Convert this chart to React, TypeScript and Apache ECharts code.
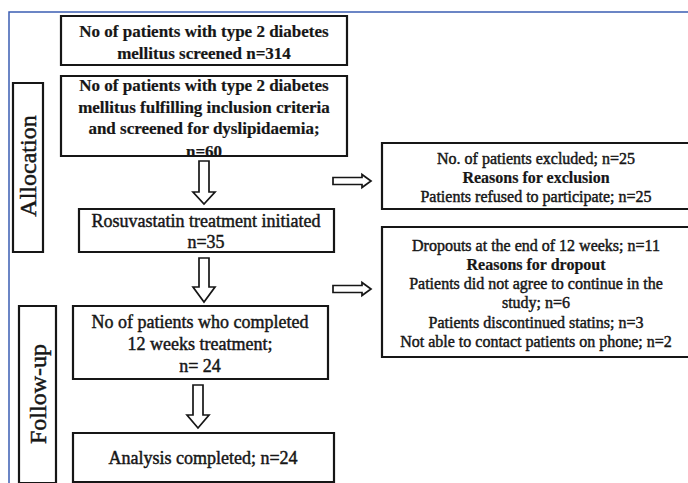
import React, { useEffect, useRef } from "react";
import * as echarts from "echarts";

// ---- Data (counts) ----
const screenedCount = 314;
const eligibleCount = 60;
const initiatedCount = 35;
const completedCount = 24;
const analysedCount = 24;
const excludedCount = 25;
const exclusionReasons = ["Patients refused to participate"];
const exclusionCounts = [25];
const dropoutCount = 11;
const dropoutReasons = [
  "Patients did not agree to continue in the study",
  "Patients discontinued statins",
  "Not able to contact patients on phone",
];
const dropoutCounts = [6, 3, 2];
const phaseLabels = ["Allocation", "Follow-up"];

const INK = "#161616";
const FRAME = "#3b5db3";
const SERIF = "'Liberation Serif', serif";

export default function App() {
  const ref = useRef<HTMLDivElement>(null);
  useEffect(() => {
    document.body.style.margin = "0";
    const chart = echarts.init(ref.current!, null, { renderer: "svg" });
    const G: any[] = [];

    const box = (x: number, y: number, w: number, h: number) =>
      G.push({
        type: "rect",
        shape: { x, y, width: w, height: h },
        style: { fill: "none", stroke: INK, lineWidth: 2.2 },
        z: 3,
      });
    const txt = (s: string, x: number, y: number, size: number, bold = false, rot = 0) =>
      G.push({
        type: "text",
        x,
        y,
        rotation: rot,
        z: 2,
        style: {
          text: s,
          fill: INK,
          fontFamily: SERIF,
          fontSize: size,
          fontWeight: bold ? "bold" : "normal",
          stroke: INK,
          lineWidth: bold ? 0.2 : 0.45,
          align: "center",
          verticalAlign: "middle",
        },
      });
    const downArrow = (cx: number, y0: number, y1: number, hs: number) =>
      G.push({
        type: "polygon",
        shape: {
          points: [
            [cx - 5, y0], [cx + 5, y0], [cx + 5, hs], [cx + 11, hs],
            [cx, y1], [cx - 11, hs], [cx - 5, hs],
          ],
        },
        style: { fill: "#fff", stroke: INK, lineWidth: 1.7 },
        z: 2,
      });
    const rightArrow = (x0: number, x1: number, cy: number, hs: number) =>
      G.push({
        type: "polygon",
        shape: {
          points: [
            [x0, cy - 3.5], [hs, cy - 3.5], [hs, cy - 6.5], [x1, cy],
            [hs, cy + 6.5], [hs, cy + 3.5], [x0, cy + 3.5],
          ],
        },
        style: { fill: "#fff", stroke: INK, lineWidth: 1.7 },
        z: 2,
      });

    // outer frame (top + left rule)
    G.push({
      type: "polyline",
      shape: { points: [[9, 490], [9, 12], [700, 12]] },
      style: { stroke: FRAME, lineWidth: 1.5, fill: "none" },
      z: 1,
    });

    // phase labels
    box(13, 83, 30, 169);
    txt(phaseLabels[0], 28, 166, 24, false, Math.PI / 2);
    box(19, 306, 37, 177);
    txt(phaseLabels[1], 37.5, 394, 24, false, Math.PI / 2);

    // box 1
    box(61, 16, 286, 49);
    txt("No of patients with type 2 diabetes", 204, 31, 17, true);
    txt(`mellitus screened n=${screenedCount}`, 204, 53, 17, true);

    // box 2
    box(61, 76, 286, 80);
    txt("No of patients with type 2 diabetes", 204, 85, 17, true);
    txt("mellitus fulfilling inclusion criteria", 204, 107, 17, true);
    txt("and screened for dyslipidaemia;", 204, 128, 17, true);
    txt(`n=${eligibleCount}`, 204, 151, 17, true);

    downArrow(204, 161, 204, 192);
    rightArrow(333, 371, 181, 362);

    // exclusion box
    box(382, 143, 312, 66);
    txt(`No. of patients excluded; n=${excludedCount}`, 536, 158, 16);
    txt("Reasons for exclusion", 536, 177, 16, true);
    exclusionReasons.forEach((r, i) =>
      txt(`${r}; n=${exclusionCounts[i]}`, 536, 196 + i * 19, 16)
    );

    // box 3
    box(79, 209, 255, 43);
    txt("Rosuvastatin treatment initiated", 206, 221, 18);
    txt(`n=${initiatedCount}`, 206, 242, 18);

    downArrow(204, 258, 302, 287);
    rightArrow(333, 371, 289, 362);

    // dropout box
    box(382, 227, 312, 130);
    const dLines: [string, boolean][] = [
      [`Dropouts at the end of 12 weeks; n=${dropoutCount}`, false],
      ["Reasons for dropout", true],
    ];
    dropoutReasons.forEach((r, i) => {
      const full = `${r}; n=${dropoutCounts[i]}`;
      if (i === 0) {
        const cut = full.lastIndexOf(" ", full.indexOf(";"));
        dLines.push([full.slice(0, cut), false]);
        dLines.push([full.slice(cut + 1), false]);
      } else dLines.push([full, false]);
    });
    dLines.forEach(([s, b], i) => txt(s, 536, 245 + i * 19.3, 16, b));

    // box 4
    box(73, 306, 255, 73);
    txt("No of patients who completed", 200, 322, 18);
    txt("12 weeks treatment;", 200, 344, 18);
    txt(`n= ${completedCount}`, 200, 366, 18);

    downArrow(198, 385, 428, 415);

    // box 5
    box(73, 433, 261, 49);
    txt(`Analysis completed; n=${analysedCount}`, 203, 458, 18);

    chart.setOption({
      animation: false,
      backgroundColor: "#ffffff",
      graphic: { elements: G },
    });
    return () => chart.dispose();
  }, []);
  return <div ref={ref} style={{ width: 688, height: 483 }} />;
}
